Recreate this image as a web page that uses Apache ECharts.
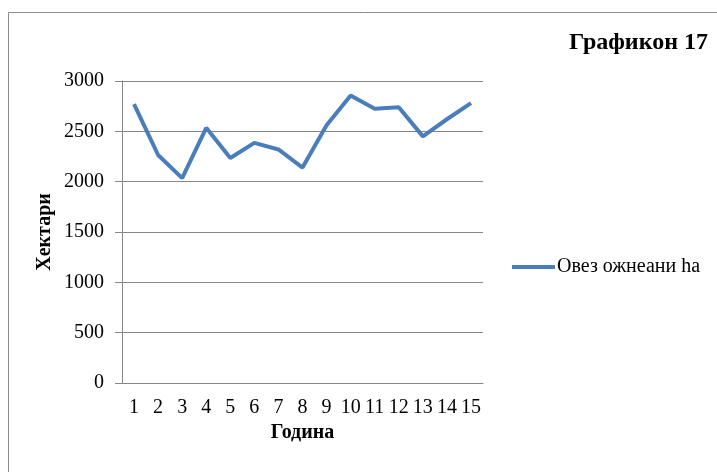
<!DOCTYPE html>
<html>
<head>
<meta charset="utf-8">
<script src="https://cdn.jsdelivr.net/npm/echarts@6/dist/echarts.min.js"></script>
<style>
html,body{margin:0;padding:0;background:#fff;}
#chart{width:717px;height:472px;}
</style>
</head>
<body>
<div id="chart"></div>
<script>
const categories = ['1','2','3','4','5','6','7','8','9','10','11','12','13','14','15'];
const seriesName = 'Овез ожнеани ha';
const values = [2770, 2265, 2035, 2535, 2235, 2385, 2320, 2140, 2560, 2855, 2725, 2740, 2450, 2620, 2780];
const titleText = 'Графикон 17';
const xName = 'Година';
const yName = 'Хектари';

const FONT = '"Liberation Serif", "Times New Roman", serif';
const chart = echarts.init(document.getElementById('chart'), null, {renderer: 'canvas'});
chart.setOption({
  backgroundColor: '#ffffff',
  animation: false,
  title: {
    text: titleText,
    right: 9,
    top: 31,
    padding: 0,
    textStyle: {fontFamily: FONT, fontSize: 24, fontWeight: 'bold', color: '#000'}
  },
  legend: {
    data: [seriesName],
    left: 512,
    top: 257,
    padding: 0,
    icon: 'rect',
    itemWidth: 43,
    itemHeight: 4,
    textStyle: {fontFamily: FONT, fontSize: 20, color: '#000', padding: [0,0,0,-3]}
  },
  grid: {left: 122, right: 234, top: 81, bottom: 89, containLabel: false},
  graphic: [{
    type: 'rect',
    shape: {x: 8.5, y: 12.5, width: 900, height: 700},
    style: {fill: 'none', stroke: '#8c8c8c', lineWidth: 1},
    silent: true
  }, {
    type: 'text',
    x: 45,
    y: 232,
    rotation: Math.PI / 2,
    silent: true,
    style: {
      text: yName,
      fill: '#000',
      font: 'bold 20px ' + FONT,
      align: 'center',
      verticalAlign: 'middle'
    }
  }],
  xAxis: {
    type: 'category',
    data: categories,
    boundaryGap: true,
    name: xName,
    nameLocation: 'middle',
    nameGap: 37,
    nameTextStyle: {fontFamily: FONT, fontSize: 20, fontWeight: 'bold', color: '#000'},
    axisLine: {show: true, lineStyle: {color: '#868686', width: 1}},
    axisTick: {show: false},
    axisLabel: {fontFamily: FONT, fontSize: 20, color: '#000', margin: 15, interval: 0},
    splitLine: {show: false}
  },
  yAxis: {
    type: 'value',
    min: 0,
    max: 3000,
    interval: 500,
    axisLine: {show: true, lineStyle: {color: '#868686', width: 1}},
    axisTick: {show: true, length: 7, lineStyle: {color: '#868686', width: 1}},
    axisLabel: {fontFamily: FONT, fontSize: 20, color: '#000', margin: 18, formatter: function (v) { return String(v); }},
    splitLine: {show: true, lineStyle: {color: '#868686', width: 1}}
  },
  series: [{
    name: seriesName,
    type: 'line',
    data: values,
    showSymbol: false,
    symbol: 'none',
    lineStyle: {color: '#4a7ebb', width: 4},
    itemStyle: {color: '#4a7ebb'}
  }]
});
</script>
</body>
</html>
